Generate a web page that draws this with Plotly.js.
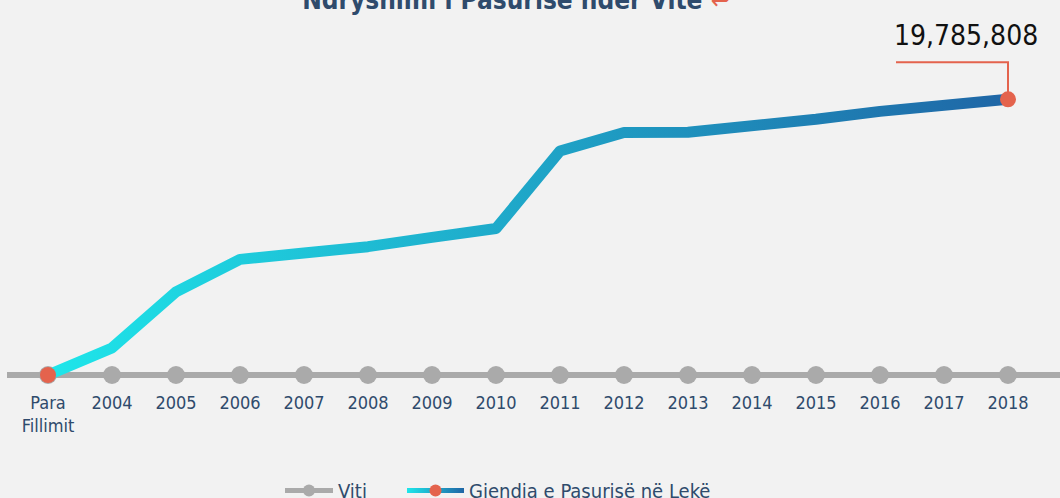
<!DOCTYPE html>
<html>
<head>
<meta charset="utf-8">
<script src="https://cdn.plot.ly/plotly-3.0.1.min.js"></script>
<style>
  html, body { margin: 0; padding: 0; background: #f2f2f2; }
  #chart { width: 1060px; height: 498px; }
</style>
</head>
<body>
<div id="chart"></div>
<script>
// ---- data ----
const categories = ['Para<br>Fillimit', '2004', '2005', '2006', '2007', '2008', '2009', '2010',
                    '2011', '2012', '2013', '2014', '2015', '2016', '2017', '2018'];
const yearBaseline = [0, 0, 0, 0, 0, 0, 0, 0, 0, 0, 0, 0, 0, 0, 0, 0];
const wealthValues = [0, 1940000, 5960000, 8300000, 8760000, 9210000, 9880000, 10510000,
                      16080000, 17400000, 17420000, 17820000, 18350000, 18920000, 19450000, 19785808];
const seriesNames = ['Viti', 'Gjendja e Pasurisë në Lekë'];
const chartTitle = 'Ndryshimi i Pasurisë ndër Vite';

// ---- style ----
const FONT = '"DejaVu Sans Condensed", "Liberation Sans Narrow", "Arial Narrow", sans-serif';
const NAVY = '#2f4b6c';
const GREY = '#aaaaaa';
const RED = '#e4634d';
const BG = '#f2f2f2';

const n = categories.length;
const lastIdx = n - 1;
const lastVal = wealthValues[lastIdx];

const endMarkerSizes = wealthValues.map((v, i) => (i === 0 || i === lastIdx) ? 16 : 0);

const traces = [
  {
    type: 'scatter', mode: 'lines+markers', name: seriesNames[0],
    x: categories, y: yearBaseline, legend: 'legend',
    line: { color: GREY, width: 6 },
    marker: { color: GREY, size: 18, opacity: 1, line: { width: 0 } },
    hoverinfo: 'skip'
  },
  {
    type: 'scatter', mode: 'lines+markers', name: seriesNames[1],
    x: categories, y: wealthValues, legend: 'legend2',
    line: { color: '#1fb0cf', width: 11 },
    marker: { color: RED, size: endMarkerSizes, opacity: 1, line: { width: 0 } },
    hoverinfo: 'skip'
  }
];

// pixel mapping: plot area 7..1060 horizontally, 40..390 vertically
const plotLeft = 7, plotWidth = 1053;
const plotTop = 40, plotBottom = 390, zeroPx = 375, lastPx = 99.3;
const perPx = lastVal / (zeroPx - lastPx);
const yMax = (zeroPx - plotTop) * perPx;
const yMin = -(plotBottom - zeroPx) * perPx;
const legendY = -0.287;

const legendCommon = {
  orientation: 'h', xanchor: 'left', y: legendY, yanchor: 'middle',
  font: { family: FONT, size: 20, color: NAVY },
  itemsizing: 'constant', bgcolor: 'rgba(0,0,0,0)'
};

const layout = {
  width: 1060, height: 498,
  paper_bgcolor: BG, plot_bgcolor: BG,
  font: { family: FONT, color: NAVY },
  margin: { l: plotLeft, r: 0, t: plotTop, b: 498 - plotBottom, pad: 0, autoexpand: false },
  title: {
    text: chartTitle + ' <span style="color:' + RED + ';font-weight:normal">↩</span>',
    font: { family: FONT, size: 26, color: NAVY, weight: 'bold' },
    x: 0.487, xanchor: 'center', y: 1, yanchor: 'middle', yref: 'container'
  },
  xaxis: {
    type: 'category',
    range: [-(48 - 7) / 64, 15 + 52 / 64],
    showgrid: false, zeroline: false, showline: false, ticks: '',
    tickfont: { family: FONT, size: 18, color: NAVY },
    automargin: false,
    fixedrange: true
  },
  yaxis: {
    range: [yMin, yMax],
    showgrid: false, showticklabels: false, ticks: '',
    zeroline: true, zerolinecolor: GREY, zerolinewidth: 6,
    automargin: false,
    fixedrange: true
  },
  showlegend: true,
  legend: Object.assign({}, legendCommon, { x: (280 - plotLeft) / plotWidth, itemwidth: 48 }),
  legend2: Object.assign({}, legendCommon, { x: (402 - plotLeft) / plotWidth, itemwidth: 57 }),
  shapes: [
    {
      type: 'path', xref: 'x', yref: 'y',
      xsizemode: 'pixel', ysizemode: 'pixel',
      xanchor: lastIdx, yanchor: lastVal,
      path: 'M-112,37H0V0',
      line: { color: RED, width: 2 },
      layer: 'below'
    }
  ],
  annotations: [
    {
      x: lastIdx, y: lastVal, xref: 'x', yref: 'y',
      text: lastVal.toLocaleString('en-US'),
      showarrow: false, xanchor: 'center', yanchor: 'middle',
      xshift: -42, yshift: 64,
      font: { family: FONT, size: 28, color: '#111111' }
    }
  ]
};

Plotly.newPlot('chart', traces, layout, { displayModeBar: false, staticPlot: true }).then(gd => {
  const svg = gd.querySelector('svg.main-svg');
  const ns = 'http://www.w3.org/2000/svg';
  let defs = svg.querySelector('defs');
  function makeGrad(id, units, x1, x2) {
    const g = document.createElementNS(ns, 'linearGradient');
    g.setAttribute('id', id);
    g.setAttribute('gradientUnits', units);
    g.setAttribute('x1', x1); g.setAttribute('x2', x2);
    g.setAttribute('y1', 0); g.setAttribute('y2', 0);
    [['0', '#1ee6ea'], ['1', '#1f66a6']].forEach(([o, c]) => {
      const s = document.createElementNS(ns, 'stop');
      s.setAttribute('offset', o); s.setAttribute('stop-color', c);
      g.appendChild(s);
    });
    defs.appendChild(g);
  }
  makeGrad('wealthGrad', 'objectBoundingBox', 0, 1);
  const tr = gd.querySelectorAll('.scatterlayer .trace')[1];
  if (tr) tr.querySelectorAll('path.js-line').forEach(p => {
    p.style.stroke = 'url(#wealthGrad)';
    p.style.strokeLinejoin = 'round';
  });
  const leg2 = gd.querySelector('.legend2') || gd.querySelectorAll('.infolayer > g[class^="legend"]')[1];
  const legPaths = leg2 ? leg2.querySelectorAll('.legendlines path') : [];
  legPaths.forEach(p => {
    const bb = p.getBBox();
    makeGrad('wealthGradLegend', 'userSpaceOnUse', bb.x, bb.x + bb.width);
    p.style.stroke = 'url(#wealthGradLegend)';
  });
});
</script>
</body>
</html>
